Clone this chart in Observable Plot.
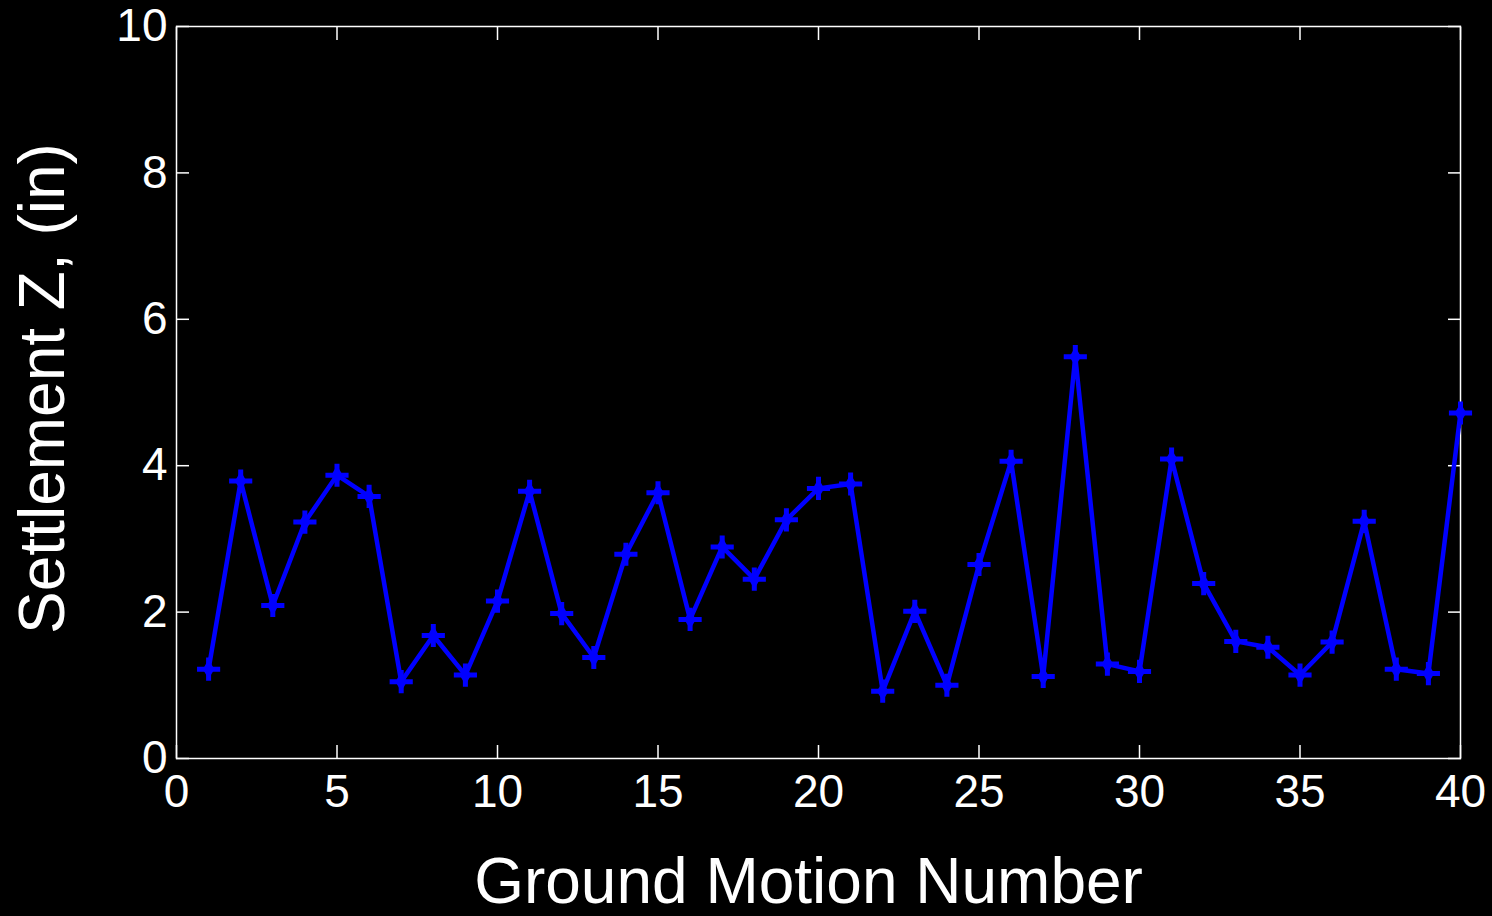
<!DOCTYPE html>
<html>
<head>
<meta charset="utf-8">
<script src="https://cdn.jsdelivr.net/npm/d3@7"></script>
<script src="https://cdn.jsdelivr.net/npm/@observablehq/plot@0.6"></script>
<style>
  html, body { margin: 0; padding: 0; background: #000; }
  #chart svg { display: block; }
</style>
</head>
<body>
<div id="chart"></div>
<script>
const motionNumbers = d3.range(1, 41);
const settlement = [
  1.22, 3.79, 2.09, 3.23, 3.87, 3.58, 1.05, 1.68, 1.14, 2.15,
  3.65, 1.98, 1.38, 2.79, 3.63, 1.90, 2.89, 2.45, 3.26, 3.69,
  3.75, 0.92, 2.01, 1.00, 2.65, 4.06, 1.12, 5.49, 1.29, 1.19,
  4.09, 2.39, 1.60, 1.52, 1.14, 1.59, 3.24, 1.22, 1.16, 4.72
];
const xTicks = [0, 5, 10, 15, 20, 25, 30, 35, 40];
const yTicks = [0, 2, 4, 6, 8, 10];
const xLabel = "Ground Motion Number";
const yLabel = "Settlement Z, (in)";

const data = motionNumbers.map((n, i) => ({n, z: settlement[i]}));
const fmt = d => String(d);

const chart = Plot.plot({
  width: 1492,
  height: 916,
  marginLeft: 176,
  marginRight: 32,
  marginTop: 26,
  marginBottom: 158,
  style: {background: "#000", color: "#fff", fontFamily: "'Liberation Sans', Arial, sans-serif", overflow: "visible"},
  x: {domain: [0, 40]},
  y: {domain: [0, 10]},
  marks: [
    Plot.frame({stroke: "#fff", strokeWidth: 1.5}),
    // tick labels
    Plot.axisX(xTicks, {anchor: "bottom", tickSize: 0, tickPadding: 16, fontSize: 46, tickFormat: fmt, label: null}),
    Plot.axisY(yTicks, {anchor: "left", tickSize: 0, tickPadding: 9, fontSize: 46, tickFormat: fmt, label: null}),
    // inward tick marks on all four sides
    Plot.axisX(xTicks, {anchor: "bottom", tickSize: -13, tickFormat: () => "", label: null, stroke: "#fff", strokeWidth: 1.5}),
    Plot.axisX(xTicks, {anchor: "top", tickSize: -13, tickFormat: () => "", label: null, stroke: "#fff", strokeWidth: 1.5}),
    Plot.axisY(yTicks, {anchor: "left", tickSize: -13, tickFormat: () => "", label: null, stroke: "#fff", strokeWidth: 1.5}),
    Plot.axisY(yTicks, {anchor: "right", tickSize: -13, tickFormat: () => "", label: null, stroke: "#fff", strokeWidth: 1.5}),
    // axis titles
    Plot.text([xLabel], {text: d => d, frameAnchor: "bottom", textAnchor: "middle", dy: 144, dx: -10, fontSize: 64, fill: "#fff"}),
    Plot.text([yLabel], {text: d => d, frameAnchor: "left", textAnchor: "middle", dx: -133, dy: -4, rotate: -90, fontSize: 64, fill: "#fff"}),
    // data
    Plot.line(data, {x: "n", y: "z", stroke: "#0000ff", strokeWidth: 4.5}),
    Plot.dot(data, {x: "n", y: "z", symbol: "plus", r: 7.5, stroke: "#0000ff", strokeWidth: 5}),
    Plot.dot(data, {x: "n", y: "z", symbol: "diamond", r: 6, fill: "#0000ff", stroke: "none"})
  ]
});
document.getElementById("chart").appendChild(chart);
</script>
</body>
</html>
